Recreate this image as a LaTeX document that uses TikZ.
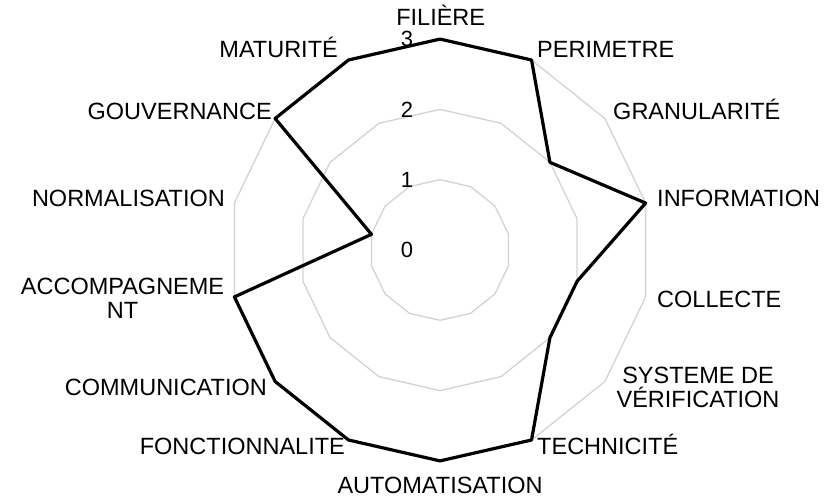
\documentclass[tikz,border=0pt]{standalone}
\usepackage{fontspec}
\setmainfont{Liberation Sans}
\usepackage{tikz}

\begin{document}
\begin{tikzpicture}[x=70.3pt, y=70.3pt,
  grille/.style={gray!35, line width=1.3pt},
  serie/.style={black, line width=3.2pt, line join=round},
  axe/.style={font=\fontsize{23.5}{24}\selectfont, inner sep=0pt},
  graduation/.style={font=\fontsize{22}{24}\selectfont, inner sep=0pt, anchor=base}]
  \useasboundingbox (-6.259,-3.513) rectangle (5.590,3.556);
  % grille du radar
  \foreach \r in {1,2,3}
    \draw[grille] (90:\r) \foreach \i in {1,...,13} { -- ({90-\i*360/14}:\r) } -- cycle;
  \foreach \v in {0,1,2,3}
    \node[graduation] (g\v) at (-0.47,\v-0.11) {\v};
  % serie
  \draw[serie] (90:3) \foreach \v [count=\i] in {3,2,3,2,2,3,3,3,3,3,1,3,3} { -- ({90-\i*360/14}:\v) } -- cycle;
  % axes
  \node[axe, anchor=base] (filiere) at (0.01,3.20) {FILIÈRE};
  \node[axe, anchor=base west] (perimetre) at (1.380,2.731) {PERIMETRE};
  \node[axe, anchor=base west] (granularite) at (2.461,1.849) {GRANULARITÉ};
  \node[axe, anchor=base west] (information) at (3.087,0.612) {INFORMATION};
  \node[axe, anchor=base west] (collecte) at (3.087,-0.811) {COLLECTE};
  \node[axe, anchor=north, align=center] (verification) at (3.670,-1.664) {SYSTEME DE\\VÉRIFICATION};
  \node[axe, anchor=base west] (technicite) at (1.380,-2.916) {TECHNICITÉ};
  \node[axe, anchor=base] (automatisation) at (0,-3.46) {AUTOMATISATION};
  \node[axe, anchor=base east] (fonctionnalite) at (-1.351,-2.916) {FONCTIONNALITE};
  \node[axe, anchor=base east] (communication) at (-2.461,-2.063) {COMMUNICATION};
  \node[axe, anchor=north, align=center] (accompagnement) at (-4.516,-0.398) {ACCOMPAGNEME\\NT};
  \node[axe, anchor=base east] (normalisation) at (-3.058,0.612) {NORMALISATION};
  \node[axe, anchor=base east] (gouvernance) at (-2.390,1.849) {GOUVERNANCE};
  \node[axe, anchor=base east] (maturite) at (-1.451,2.731) {MATURITÉ};
\end{tikzpicture}
\end{document}
